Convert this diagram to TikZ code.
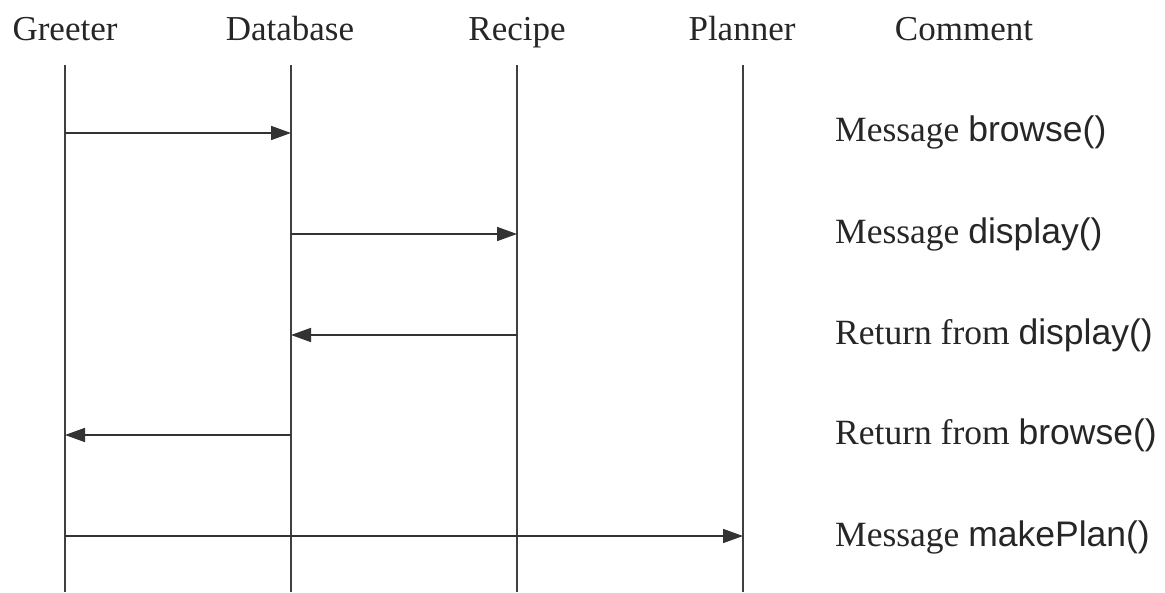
\documentclass[tikz,border=0pt]{standalone}
\usepackage{fontspec}
\setmainfont{Liberation Serif}
\setsansfont{Liberation Sans}
\usetikzlibrary{arrows.meta}
\begin{document}
\begin{tikzpicture}[x=1pt,y=-1pt,
  head/.style={font=\fontsize{35}{40}\selectfont, anchor=base, inner sep=0pt, text=black!85},
  note/.style={font=\fontsize{35.5}{40}\selectfont, anchor=base west, inner sep=0pt, text=black!85},
  life/.style={line width=1.4pt, draw=black!75},
  msg/.style={line width=1.7pt, draw=black!80, -{Triangle[length=20pt,width=14pt]}}]
\useasboundingbox (0,0) rectangle (1165,592);
% headers
\node[head] (hG) at (65,40) {Greeter};
\node[head] (hD) at (290,40) {Database};
\node[head] (hR) at (517,40) {Recipe};
\node[head] (hP) at (742,40) {Planner};
\node[head] (hC) at (964,40) {Comment};
% lifelines
\foreach \n/\x in {G/65,D/291,R/517,P/743}{
  \coordinate (t\n) at (\x,65);
  \coordinate (b\n) at (\x,592);
  \draw[life] (t\n) -- (b\n);
}
% message points
\coordinate (G1) at (65,133);  \coordinate (D1) at (291,133);
\coordinate (D2) at (291,234); \coordinate (R2) at (517,234);
\coordinate (R3) at (517,335); \coordinate (D3) at (291,335);
\coordinate (D4) at (291,435); \coordinate (G4) at (65,435);
\coordinate (G5) at (65,536);  \coordinate (P5) at (743,536);
\draw[msg] (G1) -- (D1);
\draw[msg] (D2) -- (R2);
\draw[msg] (R3) -- (D3);
\draw[msg] (D4) -- (G4);
\draw[msg] (G5) -- (P5);
% comments
\node[note] (c1) at (835,141) {Message \textsf{browse()}};
\node[note] (c2) at (835,243) {Message \textsf{display()}};
\node[note] (c3) at (835,344) {Return from \textsf{display()}};
\node[note] (c4) at (835,444) {Return from \textsf{browse()}};
\node[note] (c5) at (835,546) {Message \textsf{makePlan()}};
\end{tikzpicture}
\end{document}
